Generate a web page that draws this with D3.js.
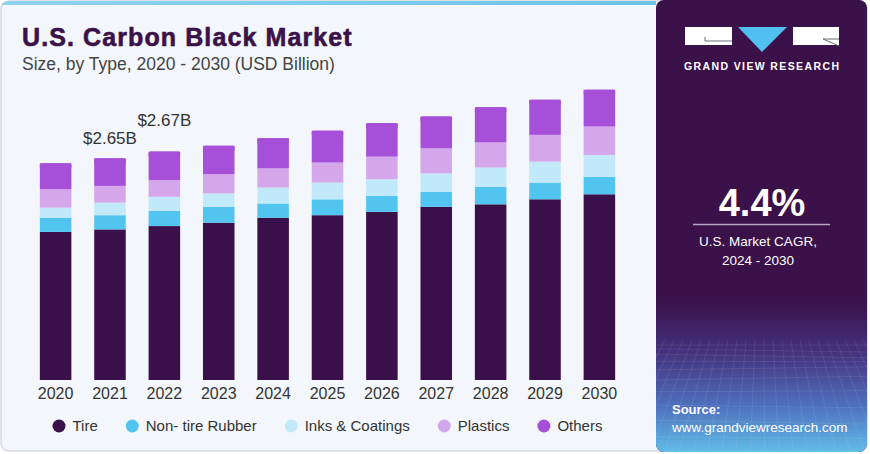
<!DOCTYPE html>
<html>
<head>
<meta charset="utf-8">
<script src="https://cdn.jsdelivr.net/npm/d3@7"></script>
<style>
  html, body { margin: 0; padding: 0; background: #ffffff; }
  svg { display: block; }
  text { font-family: "Liberation Sans", Arial, sans-serif; }
</style>
</head>
<body>
<div class="chart"></div>
<script>
// data, USD billion
var years = ['2020', '2021', '2022', '2023', '2024', '2025', '2026', '2027', '2028', '2029', '2030'];
var seriesNames = ['Tire', 'Non- tire Rubber', 'Inks & Coatings', 'Plastics', 'Others'];
var tire = [1.77, 1.80, 1.84, 1.88, 1.94, 1.97, 2.01, 2.07, 2.10, 2.16, 2.22];
var nonTireRubber = [0.17, 0.17, 0.18, 0.19, 0.17, 0.19, 0.19, 0.18, 0.21, 0.20, 0.21];
var inksCoatings = [0.12, 0.15, 0.17, 0.16, 0.19, 0.20, 0.20, 0.22, 0.23, 0.25, 0.26];
var plastics = [0.22, 0.20, 0.20, 0.23, 0.23, 0.24, 0.27, 0.30, 0.30, 0.32, 0.34];
var others = [0.31, 0.33, 0.34, 0.34, 0.36, 0.38, 0.40, 0.38, 0.42, 0.42, 0.44];
var barLabels = [null, '$2.65B', '$2.67B', null, null, null, null, null, null, null, null];
var colors = ['#3a104a', '#52c4f0', '#c2e9fa', '#d4a7eb', '#a64fd8'];

var W = 870, H = 454;
var svg = d3.select('.chart').append('svg')
    .attr('width', W)
    .attr('height', H);

var defs = svg.append('defs');

var topGrad = defs.append('linearGradient').attr('id', 'topGrad');
topGrad.append('stop').attr('offset', '0%').attr('stop-color', '#8fd2ee');
topGrad.append('stop').attr('offset', '100%').attr('stop-color', '#6cc4ea');

var srcGrad = defs.append('linearGradient').attr('id', 'srcGrad')
    .attr('x1', 0).attr('y1', 0).attr('x2', 0).attr('y2', 1);
srcGrad.append('stop').attr('offset', '0%').attr('stop-color', '#3a1149');
srcGrad.append('stop').attr('offset', '35%').attr('stop-color', '#45337f');
srcGrad.append('stop').attr('offset', '70%').attr('stop-color', '#4f72bf');
srcGrad.append('stop').attr('offset', '100%').attr('stop-color', '#62c0ea');

defs.append('clipPath').attr('id', 'panelClip')
    .append('rect')
    .attr('x', 656).attr('y', 0).attr('width', 211).attr('height', 452).attr('rx', 8);

/* card */
svg.append('rect')
    .attr('x', 1).attr('y', 1).attr('width', 866).attr('height', 450).attr('rx', 8)
    .attr('fill', '#f3f7fb')
    .attr('stroke', '#d6d9de')
    .attr('stroke-width', 1.5);

svg.append('path')
    .attr('d', 'M1,9 Q1,1 9,1 L656,1 L656,5 L1,5 Z')
    .attr('fill', 'url(#topGrad)');

/* right panel */
var panel = svg.append('g').attr('clip-path', 'url(#panelClip)');
panel.append('rect')
    .attr('x', 656).attr('y', 0).attr('width', 214).attr('height', 454)
    .attr('fill', '#3a1149');
panel.append('rect')
    .attr('x', 656).attr('y', 300).attr('width', 214).attr('height', 154)
    .attr('fill', 'url(#srcGrad)');

// faint wire grid at the bottom of the panel
var gridG = panel.append('g').attr('stroke', '#ffffff').attr('stroke-opacity', 0.12).attr('stroke-width', 0.7);
for (var gx = 0; gx <= 24; gx++) {
    var xTop = 656 + gx * 9;
    gridG.append('line')
        .attr('x1', xTop).attr('y1', 340)
        .attr('x2', 763 + (xTop - 763) * 1.6).attr('y2', 454);
}
for (var gy = 0; gy < 12; gy++) {
    var yy = 345 + gy * gy * 0.8 + gy * 3;
    gridG.append('line')
        .attr('x1', 656).attr('y1', yy)
        .attr('x2', 870).attr('y2', yy + 4 * Math.sin(gy));
}

// logo
var logo = svg.append('g');
logo.append('rect').attr('x', 685).attr('y', 27).attr('width', 47).attr('height', 18).attr('fill', '#ffffff');
logo.append('path').attr('d', 'M705,37 L705,41 L732,41').attr('fill', 'none').attr('stroke', '#6b6b7a').attr('stroke-width', 1);
logo.append('path').attr('d', 'M738,27 L787,27 L762,52 Z').attr('fill', '#52c0ee');
logo.append('rect').attr('x', 793).attr('y', 27).attr('width', 46).attr('height', 18).attr('fill', '#ffffff');
logo.append('path').attr('d', 'M823,39 L839,39 M823,39 L839,46').attr('fill', 'none').attr('stroke', '#6b6b7a').attr('stroke-width', 1);
logo.append('text')
    .attr('x', 684).attr('y', 70)
    .attr('textLength', 155).attr('lengthAdjust', 'spacing')
    .style('font-size', '10.5px').style('font-weight', 'bold')
    .style('fill', '#ffffff')
    .text('GRAND VIEW RESEARCH');

// CAGR
svg.append('text')
    .attr('x', 762).attr('y', 216).attr('text-anchor', 'middle')
    .style('font-size', '38px').style('font-weight', 'bold').style('fill', '#ffffff')
    .text('4.4%');
svg.append('line')
    .attr('x1', 693).attr('x2', 830).attr('y1', 224.5).attr('y2', 224.5)
    .attr('stroke', '#b7a6c6').attr('stroke-width', 1.5);
svg.append('text')
    .attr('x', 758).attr('y', 246).attr('text-anchor', 'middle')
    .style('font-size', '13.5px').style('fill', '#ffffff')
    .text('U.S. Market CAGR,');
svg.append('text')
    .attr('x', 758).attr('y', 265).attr('text-anchor', 'middle')
    .style('font-size', '13.5px').style('fill', '#ffffff')
    .text('2024 - 2030');

// source
svg.append('text')
    .attr('x', 672).attr('y', 414)
    .style('font-size', '13px').style('font-weight', 'bold').style('fill', '#ffffff')
    .text('Source:');
svg.append('text')
    .attr('x', 672).attr('y', 432)
    .style('font-size', '13.5px').style('fill', '#ffffff')
    .text('www.grandviewresearch.com');

/* titles */
svg.append('text')
    .attr('x', 22).attr('y', 46)
    .style('font-size', '25px').style('font-weight', 'bold')
    .style('letter-spacing', '1.1px')
    .style('fill', '#3a1149')
    .style('stroke', '#3a1149').style('stroke-width', '0.6px')
    .text('U.S. Carbon Black Market');
svg.append('text')
    .attr('x', 22).attr('y', 70)
    .style('font-size', '17.5px')
    .style('fill', '#444444')
    .text('Size, by Type, 2020 - 2030 (USD Billion)');

/* bars */
var table = years.map(function (y, i) {
    return {
        year: y,
        'Tire': tire[i],
        'Non- tire Rubber': nonTireRubber[i],
        'Inks & Coatings': inksCoatings[i],
        'Plastics': plastics[i],
        'Others': others[i]
    };
});
var stacked = d3.stack().keys(seriesNames)(table);

var x = d3.scaleBand()
    .domain(years)
    .range([17, 638])
    .paddingInner(0.42)
    .paddingOuter(0.42);

var baseY = 380;
var y = d3.scaleLinear()
    .domain([0, 3.5])
    .range([baseY, baseY - 3.5 * 83.66]);

var barsG = svg.append('g');
barsG.selectAll('g.series')
    .data(stacked)
    .enter().append('g')
    .attr('class', 'series')
    .attr('fill', function (d, i) { return colors[i]; })
    .selectAll('rect')
    .data(function (d) { return d; })
    .enter().append('rect')
    .attr('x', function (d) { return x(d.data.year); })
    .attr('y', function (d) { return y(d[1]); })
    .attr('width', x.bandwidth())
    .attr('height', function (d) { return y(d[0]) - y(d[1]); });

// slightly rounded top on the last segment
barsG.selectAll('rect.cap')
    .data(stacked[stacked.length - 1])
    .enter().append('rect')
    .attr('class', 'cap')
    .attr('x', function (d) { return x(d.data.year); })
    .attr('y', function (d) { return y(d[1]); })
    .attr('width', x.bandwidth())
    .attr('height', 6)
    .attr('rx', 2)
    .attr('fill', colors[4]);

// value labels
var totals = stacked[stacked.length - 1];
svg.selectAll('text.val')
    .data(years.filter(function (d, i) { return barLabels[i]; }))
    .enter().append('text')
    .attr('class', 'val')
    .attr('x', function (d) { return x(d) + x.bandwidth() / 2; })
    .attr('y', function (d) {
        var i = years.indexOf(d);
        return y(totals[i][1]) - (i === 1 ? 14 : 26);
    })
    .attr('text-anchor', 'middle')
    .style('font-size', '17px')
    .style('fill', '#333333')
    .text(function (d) { return barLabels[years.indexOf(d)]; });

// x axis (labels only)
var xAxis = svg.append('g')
    .attr('transform', 'translate(0,' + baseY + ')')
    .call(d3.axisBottom(x).tickSize(0).tickPadding(8));
xAxis.select('.domain').remove();
xAxis.selectAll('text')
    .style('font-family', '"Liberation Sans", Arial, sans-serif')
    .style('font-size', '16px')
    .style('fill', '#333333')
    .attr('dy', '0.71em');

/* legend */
var legend = svg.append('g').attr('transform', 'translate(0,426)');
var lx = 59;
seriesNames.forEach(function (name, i) {
    legend.append('circle')
        .attr('cx', lx).attr('cy', 0).attr('r', 6.5)
        .attr('fill', colors[i]);
    var t = legend.append('text')
        .attr('x', lx + 13.5).attr('y', 5)
        .style('font-size', '15px')
        .style('fill', '#333333')
        .text(name);
    lx = lx + 13.5 + t.node().getComputedTextLength() + 34.5;
});
</script>
</body>
</html>
